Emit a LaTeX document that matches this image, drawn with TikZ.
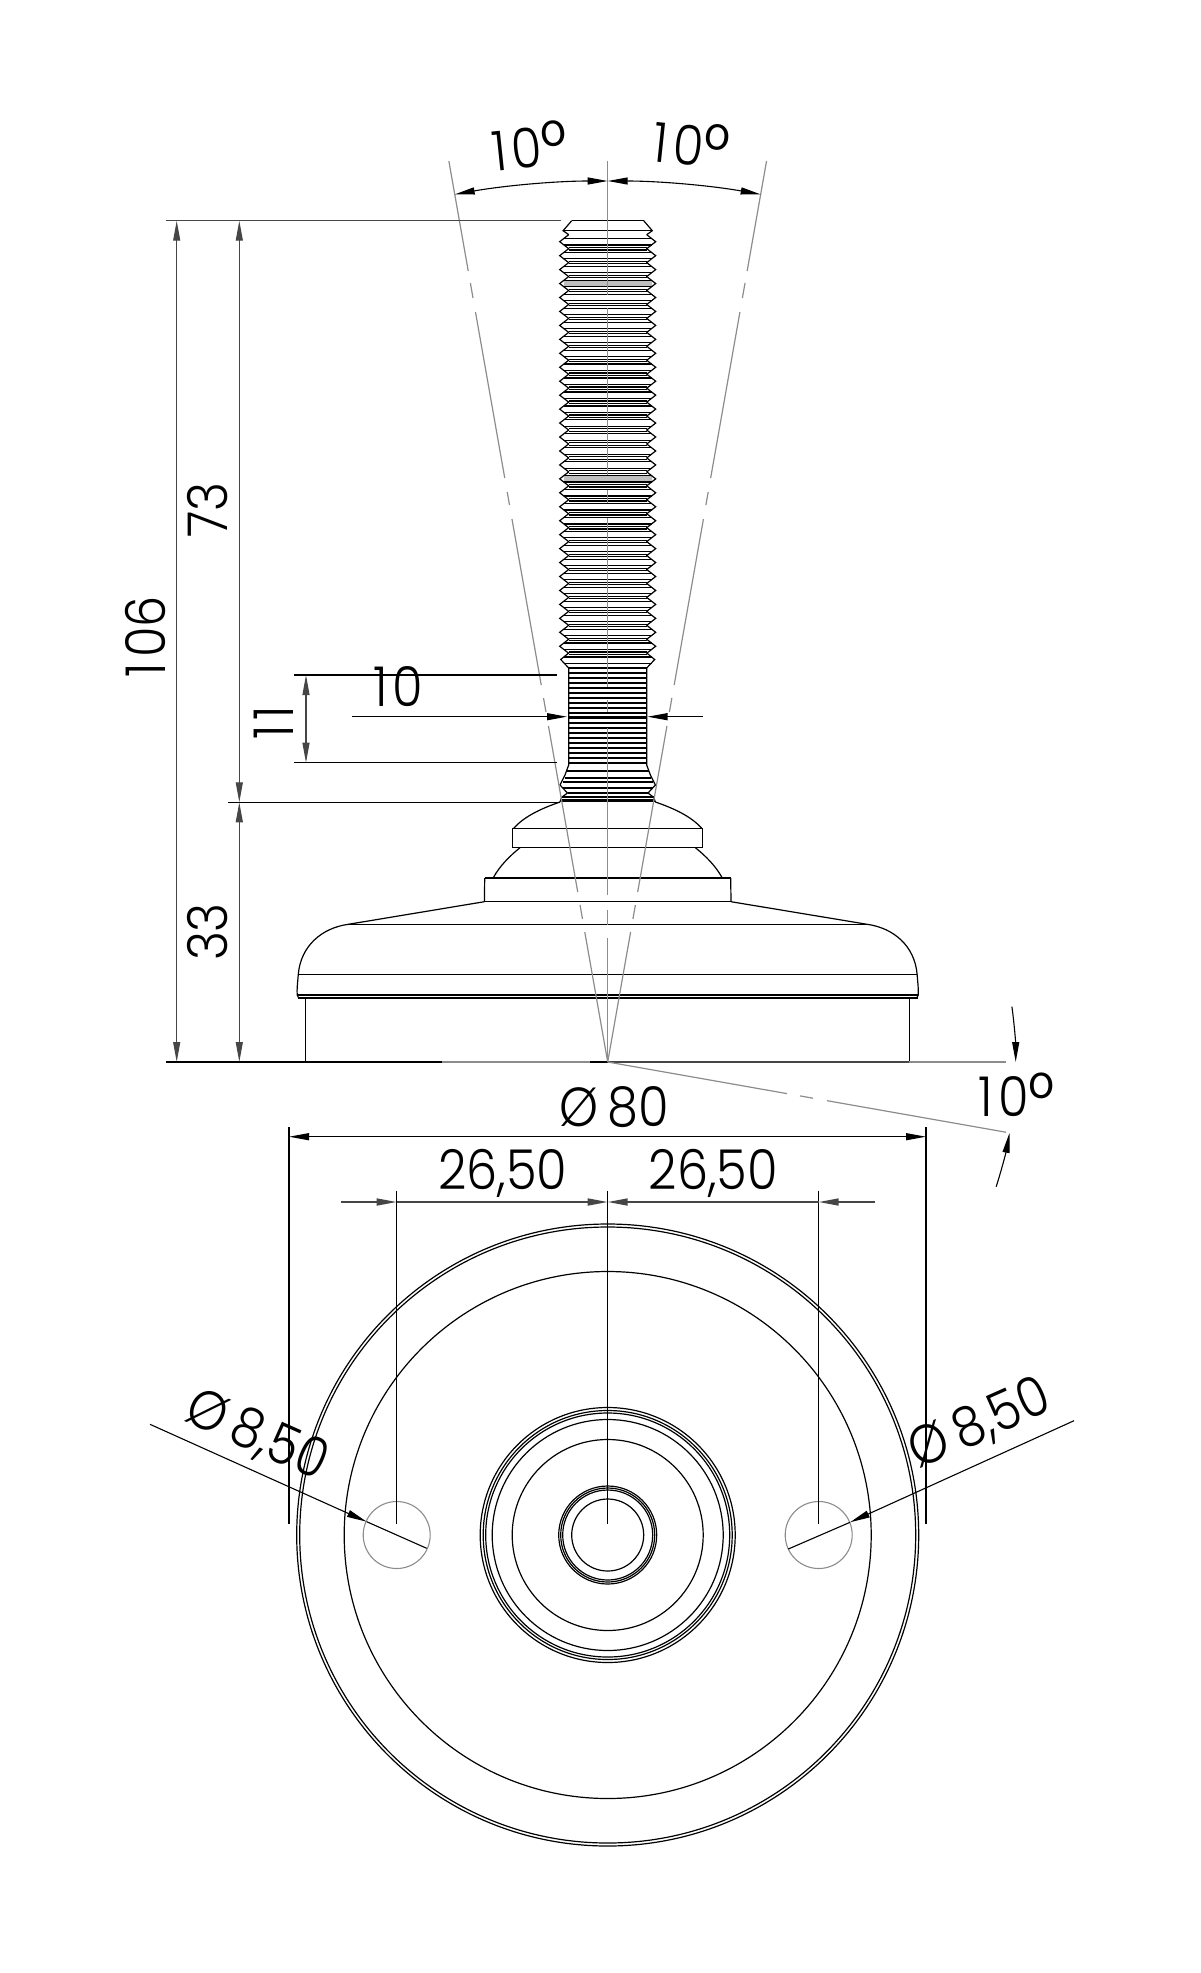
\documentclass[tikz,border=0pt]{standalone}
\usepackage{fontspec}
\setmainfont{Poppins Light}[FakeStretch=0.9]
\usetikzlibrary{arrows.meta}
\definecolor{axisgray}{RGB}{140,140,140}
\definecolor{linegray}{RGB}{70,70,70}
\newcommand{\digone}{1\kern5pt\relax}
\newcommand{\degsym}{\raisebox{-0.14em}{\fontsize{74}{74}\selectfont °}}
\tikzset{
  arr/.tip={Triangle[length=20pt,width=7pt]},
  partline/.style={black,line width=1.2pt},
  dimline/.style={black,line width=1.1pt},
  axisline/.style={axisgray,line width=1.2pt},
  holeline/.style={axisgray,line width=1.1pt},
  dimtext/.style={font=\fontsize{55}{60}\selectfont,inner sep=0pt,black},
}

\begin{document}
\begin{tikzpicture}[x=1pt,y=-1pt]
    \useasboundingbox (0,0) rectangle (1200,1973);
    \coordinate (apex) at (607.7,1062);
    \coordinate (hub) at (607.7,1535);

    % thread and body, built from the axis outwards
    \begin{scope}[shift={(607.7,0)}]
        % grey thread turns
        \fill[black!25] (-44,280) rectangle (44,287);
        \fill[black!25] (-44,475.5) rectangle (44,482.5);
        % horizontal thread lines
        \foreach \k in {0,...,30} {
            \pgfmathsetmacro\c{241.7+13.95*\k}
            \draw[partline] (-44,\c-3.2) -- (44,\c-3.2);
            \draw[partline] (-44,\c+3.2) -- (44,\c+3.2);
        }
        \foreach \k in {0,...,29} {
            \pgfmathsetmacro\c{241.7+13.95*\k}
            \draw[partline] (-39,\c+5.8) -- (39,\c+5.8);
            \draw[partline] (-39,\c+8.2) -- (39,\c+8.2);
        }
        \draw[partline] (-36,220.7) -- (36,220.7);
        \draw[partline] (-44.6,230.7) -- (44.6,230.7);
        % undercut lines
        \foreach \y in {668,673,...,765} {
            \draw[partline] (-39,\y) -- (39,\y);
        }
        \draw[black,line width=2.4pt] (-39,716.7) -- (39,716.7);
        \foreach \y/\w in {771/41,778/43,782/45,788/45,793/40,797/46} {
            \draw[partline] (-\w,\y) -- (\w,\y);
        }
        \draw[black,line width=2.4pt] (-47,800.5) -- (47,800.5);
        % plate and collars, horizontal lines
        \draw[partline] (-95,828.3) -- (95,828.3);
        \draw[partline] (-95,847.7) -- (95,847.7);
        \draw[partline] (-123,878) -- (123,878);
        \draw[partline] (-123.3,901.7) -- (123.3,901.7);
        \draw[partline] (-259.5,924.3) -- (259.5,924.3);
        \draw[partline] (-309.4,974.3) -- (309.4,974.3);
        \draw[partline] (-310,995) -- (310,995);
        \draw[partline] (-310,998) -- (310,998);
        % silhouette, once per side
        \foreach \s in {-1,1} {
            \begin{scope}[xscale=\s]
                \draw[partline] (36,220.7) -- (44.6,230.7) -- (39,234.7);
                \foreach \k in {0,...,29} {
                    \pgfmathsetmacro\c{241.7+13.95*\k}
                    \draw[partline] (39,\c-7) -- (48,\c) -- (39,\c+7) -- (39,\c+7.2);
                }
                \draw[partline] (39,653) -- (47,659.5) -- (39,668) -- (39,765) -- (42.7,775)
                    -- (47.7,785) -- (40.3,793) -- (46,797.3) -- (47.7,802);
                \draw[partline] (47.7,802) .. controls (68,809) and (84,817) .. (94,828.3);
                \draw[partline] (95,828.3) -- (95,847.7);
                \draw[partline] (87.7,847.7) .. controls (98,856) and (108,866) .. (114.3,877.5);
                \draw[partline] (123,878) -- (123.3,901.7);
                \draw[partline] (123.3,901.7) -- (259.5,924.3);
                \draw[partline] (259.5,924.3) .. controls (286,928) and (307,946) .. (309.4,974.3)
                    .. controls (310,982) and (311,990) .. (310.5,995) -- (309,998);
                \draw[partline] (302,998) -- (302,1062);
            \end{scope}
        }
    \end{scope}

    % base line
    \draw[black,line width=1.1pt] (166,1062) -- (442,1062);
    \draw[axisgray,line width=1.2pt] (442,1062) -- (590,1062);
    \draw[black,line width=1.1pt] (590,1062) -- (607.7,1062);
    \draw[linegray,line width=1.2pt] (607.7,1062) -- (909.3,1062);
    \draw[axisgray,line width=1.2pt] (909.3,1062) -- (1006,1062);

    % centre line
    \foreach \a/\b in {161/295,308/475,490/503,518/687,700/712,728/895,910/925,938/1062} {
        \draw[axisline] (607.7,\a) -- (607.7,\b);
    }
    % the two 10 degree lines
    \foreach \s in {-1,1} {
        \foreach \a/\b in {161/271,283/298,312/478,492/505,519/685,698/712,726/892,905/919,932/1062} {
            \draw[axisline] ({607.7+\s*(1062-\a)*0.1763},\a) -- ({607.7+\s*(1062-\b)*0.1763},\b);
        }
    }
    % lower 10 degree line
    \foreach \a/\b in {607.7/787,800/813,827/1006} {
        \draw[axisline] (\a,{1062+(\a-607.7)*0.1763}) -- (\b,{1062+(\b-607.7)*0.1763});
    }

    % top angle arcs
    \draw[dimline,{arr}-{arr}] (apex) ++(90:881pt) arc[start angle=90,end angle=100,radius=881pt];
    \draw[dimline,{arr}-{arr}] (apex) ++(90:881pt) arc[start angle=90,end angle=80,radius=881pt];
    \node[dimtext,rotate=6] (angleleft) at (530,149.3) {\digone 0\degsym};
    \node[dimtext,rotate=-6] (angleright) at (691.7,147.3) {\digone 0\degsym};
    % lower angle arcs
    \draw[dimline,-{arr}] (apex) ++(7.8:408pt) arc[start angle=7.8,end angle=0,radius=408pt];
    \draw[dimline,-{arr}] (apex) ++(-17.8:408pt) arc[start angle=-17.8,end angle=-10,radius=408pt];
    \node[dimtext] (anglelow) at (1016.7,1098.3) {\digone 0\degsym};

    % height dimensions
    \draw[linegray,line width=1.3pt] (165.7,220.7) -- (561,220.7);
    \draw[dimline] (228,802.3) -- (560,802.3);
    \draw[linegray,line width=1.2pt,{arr}-{arr}] (176.7,220.7) -- (176.7,1062);
    \draw[linegray,line width=1.2pt,{arr}-{arr}] (239.3,220.7) -- (239.3,802.3);
    \draw[linegray,line width=1.2pt,{arr}-{arr}] (239.3,802.3) -- (239.3,1062);
    \node[dimtext,rotate=90] (heighttotal) at (145,636.7) {\digone 06};
    \node[dimtext,rotate=90] (heightthread) at (207.7,510) {73};
    \node[dimtext,rotate=90] (heightbase) at (207.7,932) {33};

    % undercut dimensions
    \draw[dimline] (294.3,675) -- (557,675);
    \draw[dimline] (294.3,762.7) -- (557,762.7);
    \draw[linegray,line width=1.1pt,{arr}-{arr}] (306,675) -- (306,762.7);
    \node[dimtext,rotate=90] (heightneck) at (274,720) {\digone\digone};
    \draw[dimline,-{arr}] (352,716.7) -- (567,716.7);
    \draw[dimline,-{arr}] (703,716.7) -- (647.5,716.7);
    \node[dimtext] (widthneck) at (398.3,686.7) {\digone 0};

    % plan view
    \draw[partline] (hub) circle (311pt);
    \draw[partline] (hub) circle (308pt);
    \draw[partline] (hub) circle (263.5pt);
    \foreach \r in {127.5,124.5,122,115.5,95.5,49,47,45,36} {
        \draw[partline] (hub) circle (\r pt);
    }
    \coordinate (holeleft) at (396.7,1535);
    \coordinate (holeright) at (818.7,1535);
    \draw[holeline] (holeleft) circle (33.5pt);
    \draw[holeline] (holeright) circle (33.5pt);

    % plan width dimensions
    \draw[dimline] (289,1127) -- (289,1524);
    \draw[dimline] (926,1127) -- (926,1524);
    \draw[dimline,{arr}-{arr}] (289,1136.7) -- (926,1136.7);
    \node[dimtext] (widthplate) at (614.5,1107) {Ø\,80};
    \draw[dimline] (396.7,1190.7) -- (396.7,1524);
    \draw[dimline] (607.7,1190.7) -- (607.7,1524);
    \draw[dimline] (818.7,1190.7) -- (818.7,1524);
    \draw[linegray,line width=1.6pt,-{arr}] (341.4,1202) -- (396.7,1202);
    \draw[linegray,line width=1.6pt,-{arr}] (396.7,1202) -- (607.7,1202);
    \draw[linegray,line width=1.6pt,-{arr}] (818.7,1202) -- (607.7,1202);
    \draw[linegray,line width=1.6pt,-{arr}] (874.6,1202) -- (818.7,1202);
    \node[dimtext] (holeposleft) at (502.7,1173) {26,50};
    \node[dimtext] (holeposright) at (713.4,1173) {26,50};

    % hole diameters
    \coordinate (leaderleft) at (150,1424.3);
    \coordinate (tipleft) at (366.7,1521.7);
    \coordinate (endleft) at (426.7,1548.3);
    \draw[dimline,-{arr}] (leaderleft) -- (tipleft);
    \draw[dimline] (tipleft) -- (endleft);
    \node[dimtext,rotate=-24] (holedialeft) at (256.7,1436) {Ø\,8,50};
    \coordinate (leaderright) at (1074,1420.7);
    \coordinate (tipright) at (850,1522.3);
    \coordinate (endright) at (788.3,1549);
    \draw[dimline,-{arr}] (leaderright) -- (tipright);
    \draw[dimline] (tipright) -- (endright);
    \node[dimtext,rotate=24] (holediaright) at (980,1425) {Ø\,8,50};
\end{tikzpicture}
\end{document}
